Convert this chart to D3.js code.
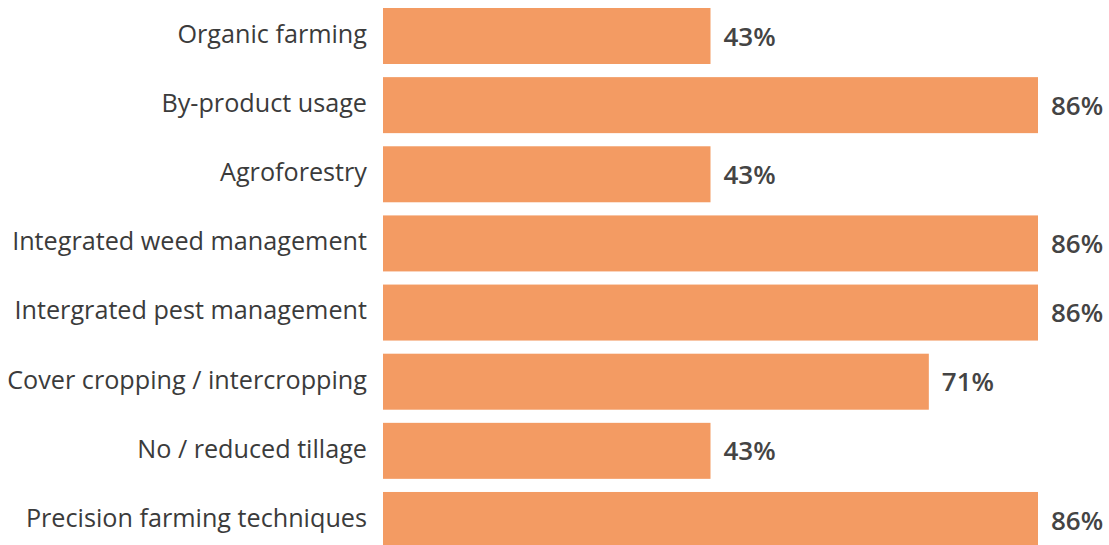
<!DOCTYPE html>
<html>
<head>
<meta charset="utf-8">
<script src="https://cdn.jsdelivr.net/npm/d3@7"></script>
<style>
  html, body { margin: 0; padding: 0; background: #fff; }
  svg { display: block; }
</style>
</head>
<body>
<svg id="chart" width="1109" height="545"></svg>
<script>
const categories = [
  "Organic farming",
  "By-product usage",
  "Agroforestry",
  "Integrated weed management",
  "Intergrated pest management",
  "Cover cropping / intercropping",
  "No / reduced tillage",
  "Precision farming techniques"
];
// share of respondents (n = 7)
const values = [3/7, 6/7, 3/7, 6/7, 6/7, 5/7, 3/7, 6/7];
const valueLabels = ["43%", "86%", "43%", "86%", "86%", "71%", "43%", "86%"];

const svg = d3.select("#chart");
const barLeft = 383, maxRight = 1038;

const x = d3.scaleLinear().domain([0, 6/7]).range([barLeft, maxRight]);
const y = d3.scaleBand().domain(categories)
  .range([1.43, 1.43 + 8 * 69.14])
  .paddingInner(0.19).paddingOuter(0.095);

const data = categories.map((c, i) => ({ c, v: values[i], l: valueLabels[i] }));

svg.selectAll("rect.bar").data(data).join("rect")
  .attr("class", "bar")
  .attr("x", x(0))
  .attr("y", d => y(d.c))
  .attr("width", d => x(d.v) - x(0))
  .attr("height", y.bandwidth())
  .attr("fill", "#F39B63");

svg.selectAll("text.cat").data(data).join("text")
  .attr("class", "cat")
  .attr("x", barLeft - 16)
  .attr("y", d => y(d.c) + y.bandwidth() / 2 - 2)
  .attr("dy", "0.35em")
  .attr("text-anchor", "end")
  .attr("font-family", "'Open Sans', sans-serif")
  .attr("font-size", 25.2)
  .attr("fill", "#3b3b3b")
  .text(d => d.c);

svg.selectAll("text.val").data(data).join("text")
  .attr("class", "val")
  .attr("x", d => x(d.v) + 13)
  .attr("y", d => y(d.c) + y.bandwidth() / 2 + 0.5)
  .attr("dy", "0.35em")
  .attr("font-family", "'Open Sans', sans-serif")
  .attr("font-weight", 600)
  .attr("font-size", 26)
  .attr("fill", "#444")
  .text(d => d.l);
</script>
</body>
</html>
